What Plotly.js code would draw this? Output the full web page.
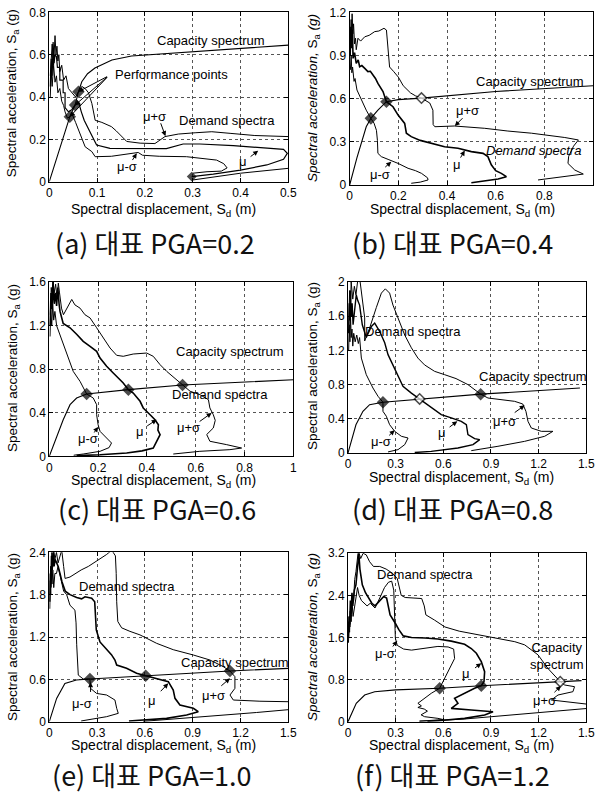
<!DOCTYPE html>
<html><head><meta charset="utf-8">
<script src="https://cdn.plot.ly/plotly-3.0.1.min.js"></script>
<style>html,body{margin:0;padding:0;background:#fff}#chart{width:596px;height:800px}</style>
</head><body><div id="chart"></div>
<script>
// ---------- DATA (Sd in m, Sa in g) ----------
// Panel (a) PGA = 0.2
const aCap = [[0,0],[0.043,0.307],[0.054,0.362],[0.061,0.425],[0.068,0.472],[0.08,0.51],[0.0955,0.537],[0.131,0.575],[0.172,0.594],[0.3,0.614],[0.5,0.645]];
const aHi = [[0.002,0.5],[0.006,0.65],[0.009,0.55],[0.012,0.69],[0.014,0.6],[0.016,0.64],[0.018,0.57],[0.02,0.6],[0.022,0.52],[0.026,0.55],[0.03,0.48],[0.035,0.5],[0.04,0.44],[0.048,0.42],[0.055,0.4],[0.061,0.425],[0.068,0.45],[0.075,0.44],[0.082,0.42],[0.089,0.37],[0.093,0.33],[0.096,0.29],[0.11,0.28],[0.13,0.26],[0.14,0.24],[0.15,0.215],[0.162,0.19],[0.19,0.182],[0.221,0.18],[0.242,0.213],[0.27,0.225],[0.305,0.231],[0.34,0.236],[0.38,0.228],[0.43,0.218],[0.5,0.213],[0.55,0.2],[0.56,0.12],[0.5,0.063],[0.4,0.04],[0.3,0.008]];
const aMu = [[0.002,0.45],[0.004,0.58],[0.006,0.5],[0.008,0.66],[0.01,0.56],[0.012,0.6],[0.015,0.59],[0.017,0.54],[0.022,0.54],[0.022,0.48],[0.029,0.48],[0.029,0.42],[0.033,0.42],[0.033,0.35],[0.04,0.33],[0.047,0.34],[0.054,0.362],[0.062,0.37],[0.067,0.33],[0.073,0.29],[0.085,0.236],[0.099,0.173],[0.127,0.157],[0.18,0.156],[0.245,0.156],[0.28,0.178],[0.315,0.178],[0.385,0.17],[0.437,0.16],[0.49,0.153],[0.498,0.134],[0.49,0.106],[0.455,0.079],[0.4,0.055],[0.343,0.036],[0.298,0.024]];
const aLo = [[0.002,0.4],[0.004,0.52],[0.006,0.45],[0.009,0.55],[0.012,0.47],[0.015,0.5],[0.018,0.42],[0.022,0.44],[0.026,0.38],[0.03,0.36],[0.033,0.33],[0.038,0.3],[0.043,0.307],[0.047,0.323],[0.055,0.28],[0.061,0.244],[0.068,0.2],[0.075,0.165],[0.089,0.142],[0.096,0.118],[0.13,0.12],[0.16,0.128],[0.186,0.138],[0.195,0.125],[0.23,0.12],[0.287,0.118],[0.35,0.102],[0.365,0.085],[0.372,0.065],[0.36,0.05],[0.33,0.047],[0.3,0.04]];
const aPpSd = [0.043,0.054,0.061,0.298];
const aPpSa = [0.307,0.362,0.425,0.024];

// Panel (b) PGA = 0.4
const bCap = [[0,0],[0.03,0.19],[0.068,0.405],[0.087,0.463],[0.116,0.52],[0.151,0.579],[0.2,0.593],[0.295,0.604],[0.6,0.65],[1.0,0.69]];
const bHi = [[0.003,0.95],[0.006,1.15],[0.008,1.0],[0.01,1.19],[0.013,1.05],[0.016,1.12],[0.02,0.98],[0.024,1.02],[0.027,0.94],[0.034,1.02],[0.045,1.0],[0.062,1.03],[0.08,1.04],[0.103,1.066],[0.12,1.07],[0.141,1.089],[0.151,1.077],[0.155,1.008],[0.16,0.87],[0.164,0.82],[0.18,0.79],[0.2,0.75],[0.22,0.69],[0.25,0.64],[0.27,0.62],[0.295,0.604],[0.329,0.57],[0.342,0.52],[0.343,0.42],[0.35,0.405],[0.43,0.41],[0.555,0.394],[0.65,0.375],[0.747,0.36],[0.884,0.33],[0.94,0.313],[0.92,0.27],[0.9,0.2],[0.897,0.15],[0.925,0.104],[0.96,0.076],[0.884,0.058],[0.774,0.035]];
const bMu = [[0.002,0.9],[0.005,1.1],[0.008,0.95],[0.011,1.08],[0.014,0.88],[0.02,0.92],[0.027,0.845],[0.035,0.87],[0.041,0.822],[0.05,0.83],[0.062,0.81],[0.075,0.788],[0.085,0.79],[0.096,0.764],[0.106,0.74],[0.116,0.706],[0.137,0.649],[0.151,0.579],[0.165,0.56],[0.178,0.544],[0.199,0.486],[0.215,0.45],[0.226,0.428],[0.233,0.36],[0.253,0.336],[0.29,0.31],[0.336,0.29],[0.39,0.266],[0.445,0.255],[0.5,0.232],[0.548,0.22],[0.568,0.197],[0.582,0.14],[0.6,0.1],[0.623,0.081],[0.644,0.058],[0.61,0.042],[0.541,0.028],[0.5,0.016]];
const bLo = [[0.003,0.8],[0.006,0.9],[0.009,0.78],[0.012,0.82],[0.018,0.72],[0.022,0.74],[0.03,0.66],[0.04,0.62],[0.048,0.59],[0.058,0.55],[0.068,0.52],[0.087,0.463],[0.1,0.43],[0.11,0.38],[0.114,0.31],[0.116,0.22],[0.13,0.197],[0.158,0.178],[0.18,0.165],[0.199,0.15],[0.24,0.116],[0.27,0.1],[0.295,0.081],[0.32,0.05],[0.322,0.035],[0.29,0.02],[0.253,0.012]];
const bPpSd = [0.087,0.151,0.295];
const bPpSa = [0.463,0.579,0.604];

// Panel (c) PGA = 0.6
const cCap = [[0,0],[0.03,0.17],[0.057,0.336],[0.085,0.474],[0.112,0.535],[0.153,0.572],[0.324,0.612],[0.546,0.655],[1.0,0.703]];
const cHi = [[0.004,1.3],[0.008,1.55],[0.012,1.45],[0.016,1.6],[0.02,1.5],[0.026,1.58],[0.032,1.45],[0.037,1.59],[0.042,1.5],[0.05,1.36],[0.058,1.3],[0.068,1.34],[0.08,1.4],[0.092,1.44],[0.105,1.39],[0.126,1.36],[0.146,1.3],[0.167,1.27],[0.194,1.18],[0.221,1.09],[0.249,0.994],[0.276,0.927],[0.303,0.918],[0.344,0.939],[0.399,0.948],[0.426,0.918],[0.454,0.841],[0.481,0.78],[0.522,0.704],[0.546,0.655],[0.577,0.597],[0.617,0.566],[0.652,0.52],[0.658,0.444],[0.672,0.382],[0.68,0.33],[0.672,0.26],[0.645,0.2],[0.658,0.138],[0.727,0.107],[0.788,0.076],[0.74,0.061],[0.617,0.046],[0.508,0.021]];
const cMu = [[0.003,1.2],[0.007,1.5],[0.011,1.35],[0.015,1.6],[0.02,1.4],[0.025,1.5],[0.03,1.38],[0.035,1.55],[0.04,1.4],[0.044,1.33],[0.057,1.22],[0.07,1.2],[0.085,1.18],[0.112,1.12],[0.139,1.055],[0.167,1.01],[0.194,0.964],[0.208,0.902],[0.235,0.826],[0.262,0.765],[0.283,0.719],[0.303,0.673],[0.324,0.612],[0.344,0.581],[0.372,0.505],[0.385,0.444],[0.413,0.382],[0.433,0.336],[0.447,0.29],[0.445,0.24],[0.454,0.199],[0.44,0.138],[0.426,0.076],[0.38,0.05],[0.317,0.031],[0.208,0.015],[0.112,0.006]];
const cLo = [[0.003,1.1],[0.006,1.35],[0.01,1.2],[0.014,1.4],[0.018,1.25],[0.023,1.33],[0.03,1.2],[0.038,1.15],[0.044,1.117],[0.054,1.05],[0.064,0.994],[0.078,0.902],[0.098,0.78],[0.126,0.688],[0.153,0.572],[0.18,0.535],[0.194,0.474],[0.194,0.382],[0.2,0.29],[0.208,0.229],[0.235,0.168],[0.255,0.122],[0.245,0.08],[0.208,0.046],[0.139,0.021],[0.1,0.01]];
const cPpSd = [0.153,0.324,0.546];
const cPpSa = [0.572,0.612,0.655];

// Panel (d) PGA = 0.8
const dCap = [[0,0],[0.05,0.33],[0.094,0.487],[0.136,0.565],[0.22,0.593],[0.451,0.632],[0.835,0.688],[1.46,0.76]];
const dHi = [[0.005,1.5],[0.01,1.9],[0.015,1.7],[0.02,2.0],[0.03,1.8],[0.04,1.95],[0.05,1.85],[0.06,2.0],[0.073,2.05],[0.085,1.85],[0.094,1.77],[0.105,1.58],[0.105,1.31],[0.136,1.46],[0.178,1.7],[0.21,1.87],[0.235,1.92],[0.262,1.87],[0.283,1.73],[0.315,1.58],[0.357,1.38],[0.399,1.23],[0.44,1.11],[0.482,1.03],[0.545,0.955],[0.608,0.916],[0.68,0.87],[0.755,0.8],[0.797,0.74],[0.835,0.688],[0.881,0.643],[0.965,0.624],[1.049,0.604],[1.1,0.573],[1.12,0.487],[1.133,0.37],[1.154,0.292],[1.217,0.253],[1.29,0.253],[1.238,0.195],[1.112,0.136],[0.944,0.078],[0.776,0.027]];
const dMu = [[0.004,1.4],[0.008,1.75],[0.012,1.55],[0.016,1.9],[0.02,1.6],[0.026,1.75],[0.032,1.5],[0.04,1.65],[0.052,1.85],[0.062,1.78],[0.073,1.73],[0.09,1.5],[0.105,1.4],[0.115,1.35],[0.147,1.48],[0.168,1.52],[0.2,1.42],[0.231,1.29],[0.252,1.15],[0.283,1.03],[0.315,0.916],[0.346,0.78],[0.399,0.7],[0.451,0.632],[0.503,0.565],[0.545,0.507],[0.587,0.448],[0.65,0.41],[0.713,0.37],[0.745,0.33],[0.75,0.27],[0.755,0.214],[0.797,0.168],[0.829,0.156],[0.787,0.097],[0.692,0.058],[0.524,0.019],[0.42,0.005]];
const dLo = [[0.004,1.2],[0.008,1.5],[0.012,1.3],[0.016,1.6],[0.02,1.35],[0.025,1.45],[0.03,1.25],[0.036,1.4],[0.045,1.3],[0.055,1.38],[0.065,1.28],[0.073,1.35],[0.084,1.11],[0.115,0.916],[0.157,0.76],[0.189,0.663],[0.22,0.593],[0.22,0.487],[0.241,0.43],[0.262,0.331],[0.294,0.253],[0.336,0.195],[0.378,0.175],[0.357,0.097],[0.315,0.039],[0.252,0.012]];
const dPpSd = [0.22,0.451,0.835];
const dPpSa = [0.593,0.632,0.688];

// Panel (e) PGA = 1.0
const eCap = [[0,0],[0.046,0.33],[0.098,0.54],[0.17,0.59],[0.255,0.605],[0.605,0.652],[1.134,0.718],[1.5,0.756]];
const eHi = [[0.004,1.8],[0.008,2.2],[0.012,2.0],[0.016,2.4],[0.022,2.2],[0.028,2.45],[0.035,2.3],[0.045,2.4],[0.055,2.25],[0.065,2.35],[0.078,2.43],[0.09,2.2],[0.099,2.03],[0.13,2.05],[0.2,2.15],[0.245,2.2],[0.307,2.29],[0.36,2.37],[0.392,2.43],[0.415,2.35],[0.42,2.1],[0.423,1.7],[0.43,1.42],[0.454,1.33],[0.506,1.28],[0.569,1.23],[0.674,1.11],[0.778,1.02],[0.904,0.945],[1.008,0.874],[1.092,0.78],[1.134,0.718],[1.165,0.638],[1.165,0.472],[1.134,0.378],[1.155,0.307],[1.322,0.29],[1.5,0.283],[1.6,0.26],[1.5,0.17],[1.3,0.13],[1.0,0.08],[0.8,0.045],[0.59,0.005]];
const eMu = [[0.003,1.7],[0.006,2.1],[0.01,1.9],[0.014,2.35],[0.018,2.15],[0.024,2.4],[0.03,2.2],[0.036,2.3],[0.046,2.25],[0.056,2.2],[0.067,2.1],[0.08,1.98],[0.1,1.85],[0.13,1.8],[0.172,1.76],[0.203,1.74],[0.224,1.77],[0.266,1.75],[0.285,1.7],[0.29,1.5],[0.295,1.3],[0.318,1.13],[0.36,1.02],[0.39,0.95],[0.412,0.874],[0.423,0.803],[0.485,0.756],[0.548,0.685],[0.605,0.652],[0.674,0.614],[0.747,0.567],[0.778,0.449],[0.789,0.331],[0.82,0.236],[0.904,0.189],[0.935,0.142],[0.862,0.094],[0.736,0.047],[0.59,0.024],[0.5,0.01]];
const eLo = [[0.003,1.6],[0.006,2.0],[0.009,1.8],[0.013,2.2],[0.017,1.95],[0.022,2.15],[0.028,1.9],[0.035,2.1],[0.045,2.1],[0.055,2.2],[0.065,2.1],[0.077,2.0],[0.09,1.85],[0.109,1.8],[0.13,1.65],[0.161,1.58],[0.168,1.4],[0.172,1.09],[0.178,0.8],[0.182,0.66],[0.213,0.605],[0.255,0.605],[0.259,0.472],[0.297,0.4],[0.36,0.378],[0.412,0.307],[0.423,0.189],[0.433,0.118],[0.36,0.071],[0.245,0.024],[0.2,0.01]];
const ePpSd = [0.255,0.605,1.134];
const ePpSa = [0.605,0.652,0.718];

// Panel (f) PGA = 1.2
const fCap = [[0,0],[0.052,0.35],[0.105,0.507],[0.168,0.57],[0.3,0.605],[0.577,0.635],[0.839,0.684],[1.336,0.76],[1.47,0.78]];
const fHi = [[0.004,1.7],[0.008,2.0],[0.012,1.85],[0.016,2.2],[0.022,2.05],[0.028,2.4],[0.035,2.3],[0.042,2.7],[0.05,2.85],[0.058,3.05],[0.065,3.25],[0.08,3.1],[0.095,3.2],[0.115,3.17],[0.136,3.04],[0.16,2.95],[0.2,2.95],[0.24,2.9],[0.28,2.82],[0.31,2.72],[0.325,2.55],[0.335,2.4],[0.36,2.36],[0.42,2.35],[0.464,2.34],[0.48,2.2],[0.49,2.03],[0.545,1.93],[0.61,1.8],[0.7,1.72],[0.8,1.66],[0.946,1.58],[1.05,1.52],[1.112,1.46],[1.196,1.27],[1.259,1.01],[1.31,0.83],[1.336,0.76],[1.364,0.697],[1.426,0.665],[1.416,0.57],[1.322,0.507],[1.28,0.412],[1.364,0.38],[1.5,0.317],[1.6,0.3],[1.5,0.25],[1.154,0.158],[0.944,0.095],[0.734,0.051],[0.524,0.019],[0.45,0.01]];
const fMu = [[0.003,1.6],[0.007,2.0],[0.011,1.8],[0.015,2.3],[0.02,2.1],[0.025,2.45],[0.03,2.2],[0.04,2.5],[0.05,2.6],[0.06,3.0],[0.068,3.2],[0.075,2.9],[0.09,2.6],[0.11,2.45],[0.13,2.35],[0.15,2.25],[0.17,2.2],[0.2,2.3],[0.225,2.38],[0.243,2.35],[0.254,2.15],[0.265,2.03],[0.296,1.88],[0.32,1.75],[0.348,1.63],[0.4,1.6],[0.485,1.59],[0.566,1.57],[0.65,1.53],[0.734,1.47],[0.776,1.39],[0.808,1.3],[0.839,1.14],[0.86,0.95],[0.856,0.76],[0.839,0.684],[0.797,0.634],[0.755,0.57],[0.71,0.5],[0.671,0.444],[0.692,0.349],[0.65,0.253],[0.776,0.222],[0.913,0.19],[0.86,0.127],[0.734,0.063],[0.566,0.019],[0.5,0.01]];
const fLo = [[0.003,1.5],[0.006,1.9],[0.01,1.7],[0.014,2.1],[0.02,1.9],[0.026,2.25],[0.032,2.0],[0.04,2.2],[0.05,2.35],[0.06,2.55],[0.07,2.4],[0.085,2.3],[0.1,2.25],[0.12,2.2],[0.14,2.25],[0.17,2.16],[0.2,2.35],[0.23,2.55],[0.255,2.65],[0.275,2.67],[0.288,2.5],[0.292,2.2],[0.296,2.03],[0.296,1.75],[0.298,1.59],[0.31,1.45],[0.35,1.38],[0.4,1.36],[0.482,1.39],[0.566,1.43],[0.63,1.42],[0.665,1.38],[0.671,1.2],[0.64,1.01],[0.608,0.824],[0.577,0.635],[0.524,0.539],[0.482,0.444],[0.44,0.349],[0.462,0.3],[0.44,0.27],[0.48,0.24],[0.5,0.2],[0.46,0.13],[0.482,0.095],[0.566,0.063],[0.6,0.04],[0.5,0.02],[0.45,0.01]];
const fPpSd = [0.577,0.839,1.336];
const fPpSa = [0.635,0.684,0.76];

// Text
const captions = ['(a) 대표 PGA=0.2','(b) 대표 PGA=0.4','(c) 대표 PGA=0.6','(d) 대표 PGA=0.8','(e) 대표 PGA=1.0','(f) 대표 PGA=1.2'];
const xTitle = 'Spectral displacement, S<sub>d</sub> (m)';
const yTitle = 'Spectral acceleration, S<sub>a</sub> (g)';
const yTitleItalic = '<i>Spectral acceleration,</i> S<sub>a</sub> <i>(g)</i>';

// ---------- LAYOUT CONFIG ----------
const FONT = '"Liberation Sans", Arial, sans-serif';
const panels = [
  {capc:aCap, lo:aLo, mu:aMu, hi:aHi, ppx:aPpSd, ppy:aPpSa, hollow:[], small:[3], muW:1.2, xr:0.5, dx:0.1, yr:0.8, dy:0.2,
   xd:[0.0827,0.4837], yd:[0.7729,0.9846], yt:yTitle, cx:0.2601, cy:0.6975, xt:[0.2735,0.738], ytp:[0.0223,0.8838],
   labels:[['Capacity spectrum',0.3375,0.669],['Performance points',0.256,0.504],['μ+σ',0.221,0.307],['Demand spectra',0.371,0.291],['μ-σ',0.162,0.071],['μ',0.406,0.094]],
   arrows:[[0.061,0.425,0.124,0.5],[0.054,0.362,0.124,0.5],[0.043,0.307,0.124,0.5],[0.243,0.215,0.232,0.283],[0.183,0.134,0.172,0.095],[0.437,0.146,0.418,0.113]]},
  {capc:bCap, lo:bLo, mu:bMu, hi:bHi, ppx:bPpSd, ppy:bPpSa, hollow:[2], small:[], muW:1.6, xr:1, dx:0.2, yr:1.2, dy:0.3,
   xd:[0.5867,0.995], yd:[0.76875,0.9846], yt:yTitleItalic, cx:0.7584, cy:0.6975, xt:[0.7752,0.738], ytp:[0.5252,0.8775],
   labels:[['Capacity spectrum',0.74,0.718],['μ+σ',0.486,0.52],['<i>Demand spectra</i>',0.756,0.243],['μ',0.442,0.139],['μ-σ',0.123,0.07]],
   arrows:[[0.432,0.41,0.47,0.475],[0.473,0.239,0.452,0.18],[0.171,0.162,0.14,0.115]]},
  {capc:cCap, lo:cLo, mu:cMu, hi:cHi, ppx:cPpSd, ppy:cPpSa, hollow:[], small:[], muW:1.6, xr:1, dx:0.2, yr:1.6, dy:0.4,
   xd:[0.0827,0.4922], yd:[0.4296,0.6475], yt:yTitle, cx:0.2634, cy:0.365, xt:[0.2735,0.3985], ytp:[0.0218,0.54],
   labels:[['Capacity spectrum',0.74,0.964],['Demand spectra',0.699,0.566],['μ-σ',0.16,0.162],['μ',0.372,0.229],['μ+σ',0.57,0.26]],
   arrows:[[0.2,0.27,0.18,0.205],[0.44,0.336,0.395,0.27],[0.665,0.398,0.61,0.31]]},
  {capc:dCap, lo:dLo, mu:dMu, hi:dHi, ppx:dPpSd, ppy:dPpSa, hollow:[1], small:[], muW:1.4, xr:1.5, dx:0.3, yr:2, dy:0.4,
   xd:[0.5839,0.9837], yd:[0.4338,0.6475], yt:yTitle, cx:0.760, cy:0.365, xt:[0.7735,0.403], ytp:[0.5252,0.5425],
   labels:[['Demand spectra',0.409,1.42],['Capacity spectrum',1.164,0.897],['μ-σ',0.21,0.136],['μ',0.592,0.234],['μ+σ',0.986,0.37]],
   arrows:[[0.294,0.265,0.25,0.19],[0.688,0.37,0.63,0.29],[1.112,0.557,1.04,0.46]]},
  {capc:eCap, lo:eLo, mu:eMu, hi:eHi, ppx:ePpSd, ppy:ePpSa, hollow:[], small:[], muW:1.6, xr:1.5, dx:0.3, yr:2.4, dy:0.6,
   xd:[0.0827,0.4837], yd:[0.0979,0.3096], yt:yTitle, cx:0.255, cy:0.0325, xt:[0.2735,0.067], ytp:[0.0218,0.20375],
   labels:[['Demand spectra',0.485,1.91],['Capacity spectrum',1.165,0.84],['μ-σ',0.203,0.26],['μ',0.642,0.307],['μ+σ',1.03,0.378]],
   arrows:[[0.259,0.56,0.259,0.4],[0.747,0.543,0.69,0.41],[1.134,0.614,1.07,0.49]]},
  {capc:fCap, lo:fLo, mu:fMu, hi:fHi, ppx:fPpSd, ppy:fPpSa, hollow:[2], small:[], muW:1.6, xr:1.5, dx:0.3, yr:3.2, dy:0.8,
   xd:[0.5839,0.9837], yd:[0.0979,0.3084], yt:yTitleItalic, cx:0.7584, cy:0.0325, xt:[0.7735,0.067], ytp:[0.5252,0.20375],
   labels:[['Demand spectra',0.482,2.79],['Capacity<br>spectrum',1.311,1.24],['μ-σ',0.235,1.3],['μ',0.745,0.92],['μ+σ',1.238,0.41]],
   arrows:[[0.31,1.54,0.275,1.4],[0.839,1.11,0.79,1.0],[1.34,0.68,1.29,0.53]]}
];

const traces = [];
const layout = {
  width:596, height:800, margin:{l:0,r:0,t:0,b:0}, paper_bgcolor:'#fff', plot_bgcolor:'#fff',
  showlegend:false, annotations:[], font:{family:FONT, color:'#000'}
};

panels.forEach((p, i) => {
  const n = i === 0 ? '' : String(i + 1);
  const xa = 'x' + n, ya = 'y' + n;
  const line = (pts, w) => ({type:'scatter', mode:'lines', x:pts.map(q=>q[0]), y:pts.map(q=>q[1]),
    xaxis:xa, yaxis:ya, line:{color:'#000', width:w}, hoverinfo:'skip', cliponaxis:true});
  traces.push(line(p.capc, 1.1));
  traces.push(line(p.lo, 1));
  traces.push(line(p.hi, 1));
  traces.push(line(p.mu, p.muW));
  traces.push({type:'scatter', mode:'markers', x:p.ppx, y:p.ppy, xaxis:xa, yaxis:ya, hoverinfo:'skip',
    marker:{symbol:'diamond', size:p.ppx.map((_,k)=>p.small.includes(k)?6:8),
      color:p.ppx.map((_,k)=>p.hollow.includes(k)?'#fff':'#000'),
      line:{color:'#000', width:1.5}}});
  const common = {showgrid:true, gridcolor:'#555', griddash:'dot', gridwidth:1, zeroline:false,
    showline:true, linecolor:'#000', linewidth:1, mirror:'ticks', ticks:'inside', ticklen:4, tickcolor:'#000',
    tickfont:{family:FONT, size:12, color:'#000'}, automargin:false, fixedrange:true, tick0:0};
  layout['xaxis' + n] = Object.assign({}, common, {domain:p.xd, range:[0,p.xr], dtick:p.dx, anchor:ya});
  layout['yaxis' + n] = Object.assign({}, common, {domain:p.yd, range:[0,p.yr], dtick:p.dy, anchor:xa});
  layout.annotations.push({xref:'paper', yref:'paper', x:p.xt[0], y:p.xt[1], xanchor:'center', yanchor:'middle',
    text:xTitle, showarrow:false, font:{family:FONT, size:14, color:'#000'}});
  layout.annotations.push({xref:'paper', yref:'paper', x:p.ytp[0], y:p.ytp[1], xanchor:'center', yanchor:'middle',
    text:p.yt, textangle:-90, showarrow:false, font:{family:FONT, size:13.5, color:'#000'}});
  p.labels.forEach(l => layout.annotations.push({xref:xa, yref:ya, x:l[1], y:l[2], text:l[0], showarrow:false,
    font:{family:FONT, size:13, color:'#000'}}));
  p.arrows.forEach(a => layout.annotations.push({xref:xa, yref:ya, x:a[0], y:a[1], axref:xa, ayref:ya, ax:a[2], ay:a[3],
    text:'', showarrow:true, arrowhead:2, arrowsize:1, arrowwidth:1, arrowcolor:'#000'}));
  layout.annotations.push({xref:'paper', yref:'paper', x:p.cx, y:p.cy, xanchor:'center', yanchor:'middle',
    text:captions[i], showarrow:false, font:{family:'"Noto Sans CJK KR", "Noto Sans", sans-serif', size:27, color:'#111'}});
});

Plotly.newPlot('chart', traces, layout, {staticPlot:true, displayModeBar:false});
</script>
</body></html>
